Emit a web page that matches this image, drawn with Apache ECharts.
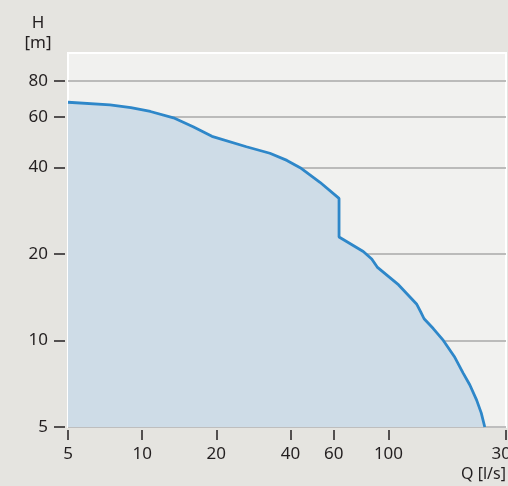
<!DOCTYPE html>
<html>
<head>
<meta charset="utf-8">
<script src="https://cdn.jsdelivr.net/npm/echarts@6/dist/echarts.min.js"></script>
<style>
  html, body { margin: 0; padding: 0; background: #e5e4e0; }
  #chart { width: 508px; height: 486px; }
</style>
</head>
<body>
<div id="chart"></div>
<script>
// Pump performance envelope: flow Q [l/s] vs head H [m], both on log scales
const flowQ = [5, 7.4, 9, 10.8, 13.4, 16.1, 19.2, 26.5, 33, 38.7, 43.8, 52.7, 63, 63, 79, 85.5, 90, 110, 130, 135, 139.5, 152, 167, 185, 201, 214, 228, 238, 246];
const headH = [67.4, 66, 64.6, 62.6, 59.5, 55.4, 51.3, 47.2, 44.8, 42.3, 39.9, 35.5, 31.2, 22.9, 20.4, 19.2, 18.0, 15.6, 13.4, 12.6, 11.9, 11.0, 10, 8.8, 7.7, 7.0, 6.2, 5.6, 5.0];

const xTicks = [5, 10, 20, 40, 60, 100, 300];
const yTicks = [5, 10, 20, 40, 60, 80];

const font = '"Noto Sans", sans-serif';
const ink = '#231f20';

const chart = echarts.init(document.getElementById('chart'), null, { renderer: 'canvas' });

chart.setOption({
  backgroundColor: '#e5e4e0',
  animation: false,
  grid: {
    left: 68, right: 2, top: 53, bottom: 59,
    outerBoundsMode: 'none',
    containLabel: false,
    show: true,
    backgroundColor: '#f1f1ef',
    borderColor: '#ffffff',
    borderWidth: 2
  },
  xAxis: {
    type: 'log',
    min: 5, max: 300,
    offset: 3,
    axisLine: { show: false },
    axisTick: { show: true, length: 10, customValues: xTicks, lineStyle: { color: ink, width: 1.5 } },
    axisLabel: { customValues: xTicks, margin: 16, color: ink, fontFamily: font, fontSize: 17, hideOverlap: false },
    splitLine: { show: false },
    minorTick: { show: false }
  },
  yAxis: {
    type: 'log',
    min: 5, max: 100,
    offset: 3,
    axisLine: { show: false },
    axisTick: { show: true, length: 11, customValues: yTicks, lineStyle: { color: ink, width: 1.5 } },
    axisLabel: { customValues: yTicks, margin: 17, color: ink, fontFamily: font, fontSize: 17 },
    splitLine: { show: true, lineStyle: { color: '#a9a9a9', width: 1.5 } }
  },
  graphic: [
    {
      type: 'text', x: 38, y: 13,
      style: { text: 'H\n[m]', align: 'center', fill: ink, font: '17px ' + font, lineHeight: 20 }
    },
    {
      type: 'text', x: 506, y: 466,
      style: { text: 'Q [l/s]', align: 'right', fill: ink, font: '16px ' + font }
    }
  ],
  series: [{
    type: 'line',
    data: flowQ.map((q, i) => [q, headH[i]]),
    showSymbol: false,
    smooth: false,
    lineStyle: { color: '#2e87c9', width: 2.8 },
    areaStyle: { color: '#cedce7', opacity: 1, origin: 'start' },
    z: 3
  }]
});
</script>
</body>
</html>
